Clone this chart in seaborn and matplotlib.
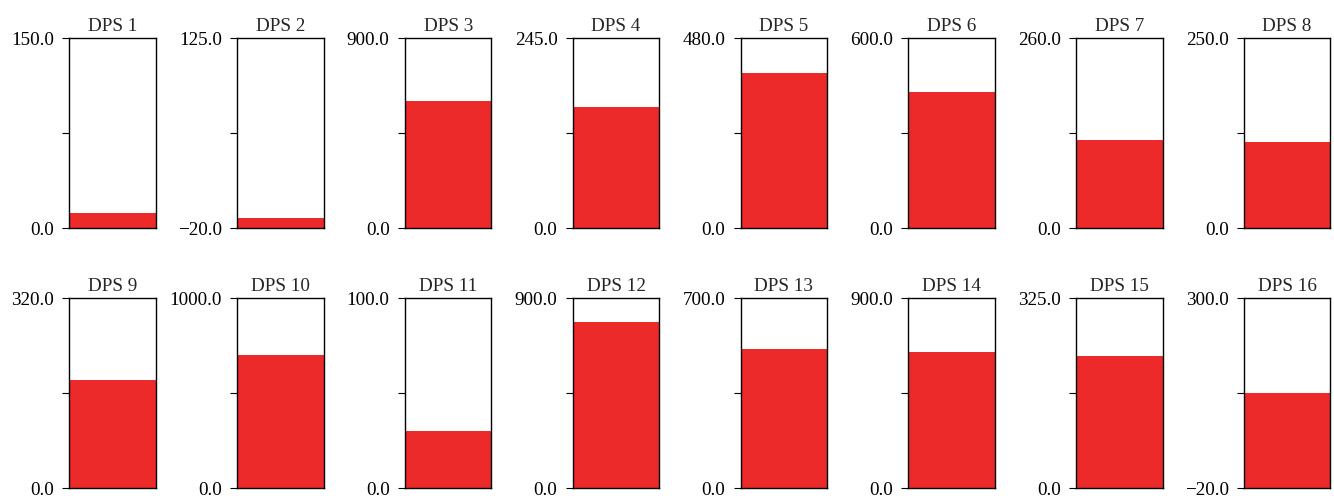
import matplotlib
matplotlib.use('Agg')
import matplotlib.pyplot as plt
import seaborn as sns
import pandas as pd

# Values, one gauge per DPS
names = [f'DPS {i}' for i in range(1, 17)]
values = [12, -12, 605, 157, 393, 432, 121, 113,
          182, 702, 30, 789, 513, 647, 226, 141]
y_min = [0, -20, 0, 0, 0, 0, 0, 0,
         0, 0, 0, 0, 0, 0, 0, -20]
y_max = [150, 125, 900, 245, 480, 600, 260, 250,
         320, 1000, 100, 900, 700, 900, 325, 300]

BAR_COLOR = '#ED2A2A'

sns.set_style('ticks')
plt.rcParams['font.family'] = ['Liberation Serif', 'DejaVu Serif']
plt.rcParams['axes.edgecolor'] = 'black'
plt.rcParams['axes.linewidth'] = 1.0


def fmt(v):
    return f'{v:.1f}'.replace('-', '\u2212')


W, H = 1334, 500
fig = plt.figure(figsize=(W / 100, H / 100), dpi=100)

left0, step, width = 69.3, 167.8, 86.5
row_top = [38.3, 298.3]
height = 190.0

for i, name in enumerate(names):
    row, col = divmod(i, 8)
    x0 = left0 + col * step
    y0 = H - row_top[row] - height
    ax = fig.add_axes([x0 / W, y0 / H, width / W, height / H])

    lo, hi = y_min[i], y_max[i]
    df = pd.DataFrame({'dps': [name], 'level': [values[i] - lo]})
    sns.barplot(data=df, x='dps', y='level', color=BAR_COLOR, width=1.0,
                saturation=1, bottom=lo, ax=ax, linewidth=0)

    ax.set_xlim(-0.5, 0.5)
    ax.set_ylim(lo, hi)
    mid = (lo + hi) / 2
    ax.set_yticks([lo, mid, hi])
    ax.set_yticklabels([fmt(lo), '', fmt(hi)])
    ax.set_xticks([])
    ax.set_xlabel('')
    ax.set_ylabel('')
    ax.tick_params(axis='y', direction='out', length=5, width=0.8,
                   labelsize=13.8, pad=6, colors='black')
    for sp in ax.spines.values():
        sp.set_visible(True)
        sp.set_color('black')
        sp.set_linewidth(1.0)
    ax.set_title(name, fontsize=13.8, pad=5)

fig.savefig('out.png', dpi=100)
